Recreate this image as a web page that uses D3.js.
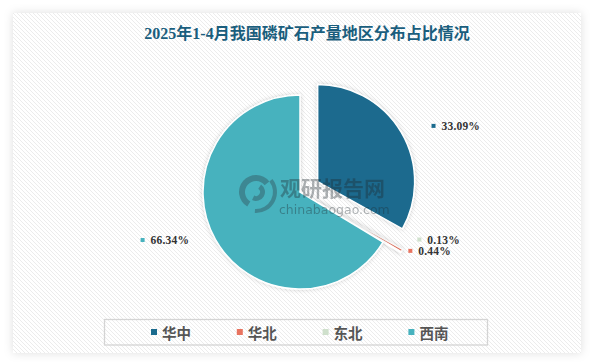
<!DOCTYPE html>
<html><head><meta charset="utf-8">
<script src="https://cdn.jsdelivr.net/npm/d3@7/dist/d3.min.js"></script>
<style>html,body{margin:0;padding:0;background:#fff;}svg{display:block;}</style>
</head><body>
<svg id="c" width="592" height="363"></svg>
<script>
const title = "2025年1-4月我国磷矿石产量地区分布占比情况";
const categories = ["华中", "华北", "东北", "西南"];
const values = [33.09, 0.44, 0.13, 66.34];
const labels = ["33.09%", "0.44%", "0.13%", "66.34%"];
const colors = ["#1b6b8e", "#e8735f", "#cfe0cc", "#47b2be"];
const exploded = [true, true, true, false];

const W = 592, H = 363;
const svg = d3.select("#c");
const defs = svg.append("defs");

// hatch pattern
const pat = defs.append("pattern").attr("id","hatch").attr("patternUnits","userSpaceOnUse")
  .attr("width",4).attr("height",4);
pat.append("rect").attr("width",4).attr("height",4).attr("fill","#fff");
pat.append("path").attr("d","M-1,-1 L5,5 M-1,3 L1,5 M3,-1 L5,1").attr("stroke","#ececec").attr("stroke-width",1);

const sh = defs.append("filter").attr("id","psh").attr("x","-5%").attr("y","-10%").attr("width","110%").attr("height","120%");
sh.append("feDropShadow").attr("dx",0).attr("dy",0).attr("stdDeviation",5).attr("flood-color","#000").attr("flood-opacity",0.13);
const ssh = defs.append("filter").attr("id","ssh").attr("x","-20%").attr("y","-20%").attr("width","140%").attr("height","140%");
ssh.append("feDropShadow").attr("dx",0).attr("dy",0).attr("stdDeviation",2).attr("flood-color","#000").attr("flood-opacity",0.18);

// panel
svg.append("rect").attr("x",13).attr("y",13).attr("width",568).attr("height",340)
  .attr("fill","url(#hatch)").attr("filter","url(#psh)");

// title
svg.append("text").attr("x",307).attr("y",39).attr("text-anchor","middle")
  .attr("font-family","'Liberation Serif','Noto Sans CJK SC',serif").attr("font-weight","bold")
  .attr("font-size",16).attr("fill","#1a5e7d").text(title);

// pie
const cx = 300, cy = 192, R = 97, explode = 20.5;
const pie = d3.pie().sort(null).value(d => d)(values);
const arc = d3.arc().innerRadius(0).outerRadius(R);
const gPie = svg.append("g").attr("transform",`translate(${cx},${cy})`);
pie.forEach((p,i) => {
  const mid = (p.startAngle + p.endAngle)/2;
  const off = exploded[i] ? explode : 0;
  const ox = Math.sin(mid)*off, oy = -Math.cos(mid)*off;
  gPie.append("path").attr("d",arc(p)).attr("transform",`translate(${ox},${oy})`)
    .attr("fill",colors[i]).attr("stroke","#fff").attr("stroke-width",1.5)
    .attr("filter","url(#ssh)");
});

// labels
const L1 = 13, L2 = 17;
const shiftY = [0, 4, -9, -6];
const shiftX = [2, -4, 6, 0];
const gLab = svg.append("g");
pie.forEach((p,i) => {
  const mid = (p.startAngle + p.endAngle)/2;
  const off = (exploded[i] && i === 0) ? explode : 0;
  const ox = cx + Math.sin(mid)*off, oy = cy - Math.cos(mid)*off;
  const ex = ox + Math.sin(mid)*(R+L1), ey = oy - Math.cos(mid)*(R+L1);
  const right = Math.sin(mid) >= 0;
  const lx = ex + (right ? L2 : -L2) + shiftX[i];
  const ly = ey + shiftY[i];
  const t = gLab.append("text").attr("font-family","'Liberation Serif',serif").attr("font-weight","bold")
    .attr("font-size",11.5).attr("fill","#333").attr("letter-spacing",0.2).attr("dominant-baseline","central");
  if (right) {
    gLab.append("rect").attr("x",lx).attr("y",ly-2).attr("width",4).attr("height",4).attr("fill",colors[i]);
    t.attr("x",lx+10).attr("y",ly).attr("text-anchor","start").text(labels[i]);
  } else {
    t.attr("x",lx+2).attr("y",ly).attr("text-anchor","end").text(labels[i]);
    const bb = t.node().getBBox();
    gLab.append("rect").attr("x",bb.x-10).attr("y",ly-2).attr("width",4).attr("height",4).attr("fill",colors[i]);
  }
});

// watermark
const wm = svg.append("g").attr("opacity",0.36);
const lg = wm.append("g").attr("transform","translate(256,192)");
lg.append("path").attr("d",d3.arc().innerRadius(11).outerRadius(17).startAngle(-2.6).endAngle(0.9)())
  .attr("fill","#2c3e46");
lg.append("path").attr("d",d3.arc().innerRadius(4).outerRadius(9).startAngle(0.6).endAngle(3.6)())
  .attr("fill","#2c3e46");
lg.append("path").attr("d",d3.arc().innerRadius(17).outerRadius(21).startAngle(0.9).endAngle(3.2)())
  .attr("fill","#2c3e46");
wm.append("text").attr("x",280).attr("y",196).attr("font-family","'Noto Sans CJK SC',sans-serif")
  .attr("font-weight","bold").attr("font-size",21).attr("fill","#1e2a30").text("观研报告网");
wm.append("text").attr("x",279).attr("y",214).attr("font-family","'DejaVu Sans',sans-serif")
  .attr("font-size",12.5).attr("fill","#1e2a30").text("chinabaogao.com");

// legend
svg.append("rect").attr("x",104.5).attr("y",319.5).attr("width",383).attr("height",25.5)
  .attr("fill","none").attr("stroke","#d4d4d4").attr("stroke-width",1.3);
const lx0 = 151, lstep = 85.8;
categories.forEach((c,i) => {
  const x = lx0 + i*lstep;
  svg.append("rect").attr("x",x).attr("y",329).attr("width",6).attr("height",6).attr("fill",colors[i]);
  svg.append("text").attr("x",x+11).attr("y",332).attr("dominant-baseline","central")
    .attr("font-family","'Noto Sans CJK SC',sans-serif").attr("font-weight","bold")
    .attr("font-size",14.5).attr("fill","#555").text(c);
});
</script>
</body></html>
